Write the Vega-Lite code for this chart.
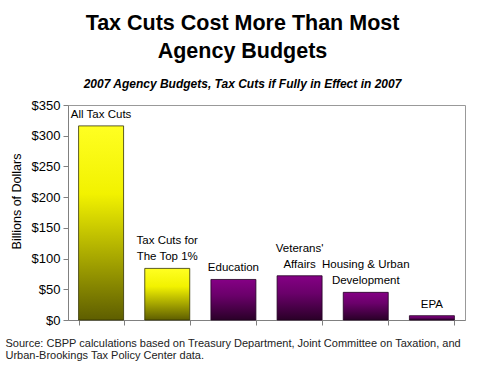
{
  "$schema": "https://vega.github.io/schema/vega-lite/v6.json",
  "width": 397,
  "height": 215,
  "autosize": {"type": "none"},
  "padding": {"left": 68, "top": 105, "right": 21, "bottom": 45},
  "background": "white",
  "config": {
    "font": "Liberation Sans",
    "view": {"stroke": "#999999", "strokeWidth": 1}
  },
  "title": {
    "text": ["Tax Cuts Cost More Than Most", "Agency Budgets"],
    "subtitle": "2007 Agency Budgets, Tax Cuts if Fully in Effect in 2007",
    "anchor": "middle",
    "dx": -24,
    "dy": 9,
    "offset": 12,
    "font": "Liberation Sans",
    "fontSize": 21.5,
    "fontWeight": "bold",
    "lineHeight": 28,
    "color": "#000000",
    "subtitleFont": "Liberation Sans",
    "subtitleFontSize": 12,
    "subtitleFontWeight": "bold",
    "subtitleFontStyle": "italic",
    "subtitleColor": "#000000",
    "subtitlePadding": 16
  },
  "data": {
    "values": [
      {"cat": "All Tax Cuts", "top": "", "bottom": "All Tax Cuts", "value": 316, "group": "tax"},
      {"cat": "Tax Cuts for The Top 1%", "top": "Tax Cuts for", "bottom": "The Top 1%", "value": 84, "group": "tax"},
      {"cat": "Education", "top": "", "bottom": "Education", "value": 66, "group": "agency"},
      {"cat": "Veterans' Affairs", "top": "Veterans'", "bottom": "Affairs", "value": 72, "group": "agency"},
      {"cat": "Housing & Urban Development", "top": "Housing & Urban", "bottom": "Development", "value": 45, "group": "agency"},
      {"cat": "EPA", "top": "", "bottom": "EPA", "value": 7, "group": "agency"}
    ]
  },
  "encoding": {
    "x": {
      "field": "cat",
      "type": "nominal",
      "sort": null,
      "scale": {"paddingInner": 0.32, "paddingOuter": 0.16},
      "axis": {
        "labels": false,
        "tickBand": "extent",
        "tickSize": 5,
        "tickColor": "#808080",
        "domainColor": "#808080",
        "title": ["Source: CBPP calculations based on Treasury Department, Joint Committee on Taxation, and", "Urban-Brookings Tax Policy Center data."],
        "titleFont": "Liberation Sans",
        "titleFontSize": 11,
        "titleFontWeight": "normal",
        "titleColor": "#222222",
        "titleAnchor": "start",
        "titleAlign": "left",
        "titleBaseline": "top",
        "titleX": -63,
        "titleY": 17,
        "titleLineHeight": 12.5
      }
    },
    "y": {
      "field": "value",
      "type": "quantitative",
      "scale": {"domain": [0, 350], "nice": false},
      "axis": {
        "values": [0, 50, 100, 150, 200, 250, 300, 350],
        "format": "$.0f",
        "grid": false,
        "tickSize": 5,
        "tickColor": "#808080",
        "domainColor": "#808080",
        "labelFont": "Liberation Sans",
        "labelFontSize": 13,
        "labelColor": "#000000",
        "labelPadding": 3,
        "title": "Billions of Dollars",
        "titleFont": "Liberation Sans",
        "titleFontSize": 12.5,
        "titleFontWeight": "normal",
        "titleColor": "#000000",
        "titlePadding": 8,
        "titleY": 96
      }
    }
  },
  "layer": [
    {
      "transform": [{"filter": "datum.group === 'tax'"}],
      "mark": {
        "type": "bar",
        "stroke": "#333300",
        "strokeWidth": 0.8,
        "fill": {
          "gradient": "linear",
          "x1": 0, "y1": 0, "x2": 0, "y2": 1,
          "stops": [
            {"offset": 0, "color": "#ffff22"},
            {"offset": 0.35, "color": "#f2f200"},
            {"offset": 1, "color": "#5e5e00"}
          ]
        }
      }
    },
    {
      "transform": [{"filter": "datum.group === 'agency'"}],
      "mark": {
        "type": "bar",
        "stroke": "#220022",
        "strokeWidth": 0.8,
        "fill": {
          "gradient": "linear",
          "x1": 0, "y1": 0, "x2": 0, "y2": 1,
          "stops": [
            {"offset": 0, "color": "#850085"},
            {"offset": 0.4, "color": "#6a006a"},
            {"offset": 1, "color": "#2a0028"}
          ]
        }
      }
    },
    {
      "mark": {
        "type": "text",
        "baseline": "alphabetic",
        "align": "center",
        "dy": -8,
        "font": "Liberation Sans",
        "fontSize": 11.5,
        "color": "#000000"
      },
      "encoding": {
        "text": {"field": "bottom"}
      }
    },
    {
      "mark": {
        "type": "text",
        "baseline": "alphabetic",
        "align": "center",
        "dy": -24,
        "font": "Liberation Sans",
        "fontSize": 11.5,
        "color": "#000000"
      },
      "encoding": {
        "text": {"field": "top"}
      }
    }
  ]
}
